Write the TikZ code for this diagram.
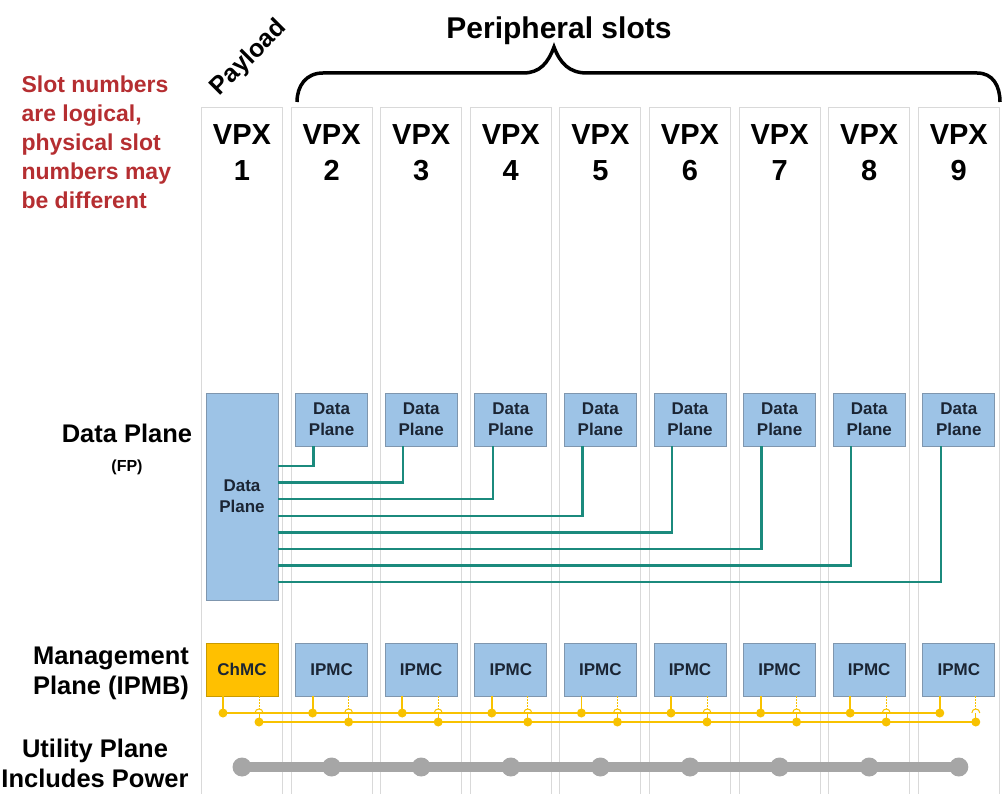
\documentclass[tikz,border=0pt]{standalone}
\usepackage{fontspec}
\setmainfont{Liberation Sans}
\usetikzlibrary{positioning}

\definecolor{slotgray}{HTML}{D9D9D9}
\definecolor{boxblue}{HTML}{9DC3E6}
\definecolor{boxline}{HTML}{7F96AE}
\definecolor{boxtext}{HTML}{1B2534}
\definecolor{chyellow}{HTML}{FFC000}
\definecolor{chline}{HTML}{C99A00}
\definecolor{teal}{HTML}{1B8A7D}
\definecolor{busyellow}{HTML}{F8C200}
\definecolor{utilgray}{HTML}{A6A6A6}
\definecolor{notered}{HTML}{B52E31}

\tikzset{
  slot/.style={draw=slotgray, line width=1pt},
  box/.style={draw=boxline, fill=boxblue, line width=0.8pt, minimum width=72pt,
    minimum height=53pt, inner sep=0pt, align=center, text=boxtext,
    font=\bfseries\fontsize{17}{21}\selectfont},
  vpx/.style={align=center, font=\bfseries\fontsize{29}{36}\selectfont},
  plane/.style={align=center, font=\bfseries\fontsize{25.5}{30}\selectfont},
  dpline/.style={draw=teal, line width=2.5pt},
  bus/.style={draw=busyellow, line width=1.8pt},
  hop/.style={draw=busyellow, line width=1pt},
  udot/.style={circle, fill=utilgray, minimum size=19pt, inner sep=0pt},
  util/.style={draw=utilgray, line width=10pt}
}

\begin{document}
\begin{tikzpicture}[x=1pt,y=-1pt]
  \useasboundingbox (0,0) rectangle (1005,794);
  % slots and headings
  \foreach \i in {1,...,9} {
    \pgfmathsetmacro\c{242+(\i-1)*89.6}
    \draw[slot] (\c-40.5,108) rectangle (\c+40.5,794);
    \node[vpx] (v\i) at (\c,153) {VPX\\\i};
  };
  \node[rotate=45, font=\bfseries\fontsize{25}{30}\selectfont] (pay) at (249,58) {Payload};
  \node[font=\bfseries\fontsize{30}{34}\selectfont] (per) at (559,31) {Peripheral slots};
  \draw[line width=3.5pt] (297,102) .. controls (297,86) and (306,73) .. (323,73)
    -- (523,73) .. controls (540,73) and (548,63) .. (554,47)
    .. controls (560,63) and (569,73) .. (587,73)
    -- (977,73) .. controls (993,73) and (1000,86) .. (1000,102);
  \node[anchor=west, align=left, text=notered, font=\bfseries\fontsize{23}{29}\selectfont]
    (note) at (18,142) {Slot numbers\\are logical,\\physical slot\\numbers may\\be different};
  % left labels
  \node[plane] (ldp) at (127,433) {Data Plane};
  \node[font=\bfseries\fontsize{16}{18}\selectfont] (lfp) at (127,467) {(FP)};
  \node[plane] (lmp) at (111,673) {Management\\Plane (IPMB)};
  \node[plane] (lup) at (95,763) {Utility Plane\\Includes Power};
  % data plane
  \node[box, minimum height=207pt] (dp1) at (242,496.5) {Data\\Plane};
  \foreach \i in {2,...,9} {
    \pgfmathsetmacro\c{242+(\i-1)*89.6}
    \pgfmathsetmacro\y{466+(\i-2)*16.6}
    \node[box] (dp\i) at (\c,419.5) {Data\\Plane};
    \draw[dpline] (dp1.east |- 0,\y) -| ([xshift=-18pt]dp\i.south);
  };
  % management plane
  \node[box, fill=chyellow, draw=chline] (ip1) at (242,669.5) {ChMC};
  \foreach \i in {2,...,9} {
    \pgfmathsetmacro\c{242+(\i-1)*89.6}
    \node[box] (ip\i) at (\c,669.5) {IPMC};
  };
  \foreach \i in {1,...,9} {
    \coordinate (ba\i) at ([xshift=-19pt]ip\i.south |- 0,713);
    \coordinate (bb\i) at ([xshift=17pt]ip\i.south |- 0,722);
  };
  \draw[bus] (ba1) -- (ba9);
  \draw[bus] (bb1) -- (bb9);
  \foreach \i in {1,...,9} {
    \pgfmathsetmacro\c{242+(\i-1)*89.6}
    \draw[bus] ([xshift=-19pt]ip\i.south) -- (ba\i);
    \fill[busyellow] (ba\i) circle (4.5pt);
    \draw[hop, dash pattern=on 2pt off 1pt] ([xshift=17pt]ip\i.south) -- (\c+17,709);
    \draw[hop] (\c+13,713) .. controls (\c+13,707.7) and (\c+21,707.7) .. (\c+21,713);
    \draw[hop] (\c+17,713) -- (bb\i);
    \fill[busyellow] (bb\i) circle (4.5pt);
  };
  % utility plane
  \foreach \i in {1,...,9} {
    \pgfmathsetmacro\c{242+(\i-1)*89.6}
    \node[udot] (u\i) at (\c,767) {};
  };
  \draw[util] (u1.center) -- (u9.center);
\end{tikzpicture}
\end{document}
